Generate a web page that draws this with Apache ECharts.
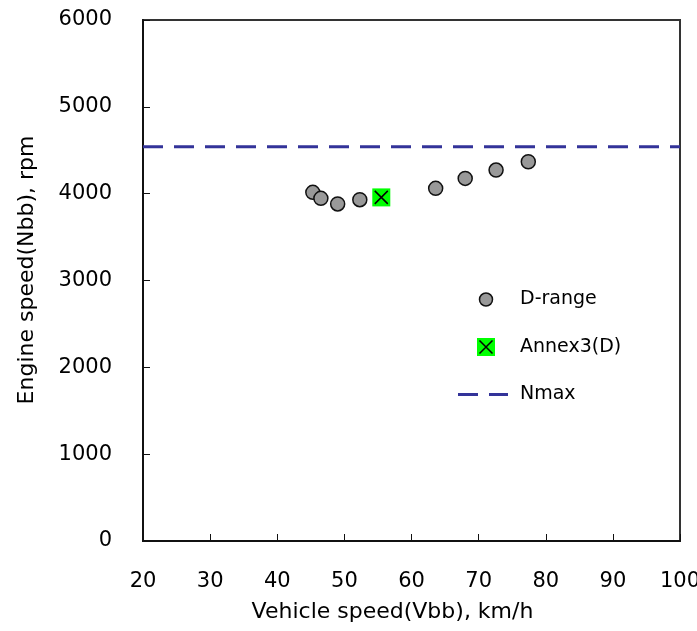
<!DOCTYPE html>
<html>
<head>
<meta charset="utf-8">
<script src="https://cdn.jsdelivr.net/npm/echarts@6/dist/echarts.min.js"></script>
<style>
  html, body { margin: 0; padding: 0; background: #fff; }
  #chart { width: 697px; height: 631px; }
</style>
</head>
<body>
<div id="chart"></div>
<script>
// D-range measurements: vehicle speed (km/h) and engine speed (rpm)
const dRangeSpeed = [45.3, 46.5, 49.0, 52.3, 63.6, 68.0, 72.6, 77.4];
const dRangeRpm   = [4015, 3946, 3882, 3931, 4061, 4176, 4272, 4368];

// Annex3(D) point
const annexSpeed = [55.5];
const annexRpm   = [3957];

// Maximum engine speed
const nmaxRpm = 4540;

// Axis ranges and ticks
const xMin = 20, xMax = 100, xStep = 10;
const yMin = 0, yMax = 6000, yStep = 1000;

const seriesNames = ['D-range', 'Annex3(D)', 'Nmax'];

const FONT = '"DejaVu Sans", "Noto Sans", sans-serif';

function svgIcon(body) {
  const svg = '<svg xmlns="http://www.w3.org/2000/svg" width="50" height="18" viewBox="0 0 50 18">' + body + '</svg>';
  return 'image://data:image/svg+xml;charset=utf-8,' + encodeURIComponent(svg);
}
const iconCircle = svgIcon('<circle cx="28" cy="9" r="6.5" fill="#999999" stroke="#111111" stroke-width="1.5"/>');
const iconAnnex  = svgIcon('<rect x="19" y="0" width="18" height="18" fill="#00ff00"/>' +
                           '<path d="M21.5 2.5L34.5 15.5M34.5 2.5L21.5 15.5" stroke="#000" stroke-width="1.5" fill="none"/>');
const iconDash   = svgIcon('<path d="M0 9H20M31 9H50" stroke="#333399" stroke-width="3" fill="none"/>');

const toPairs = (xs, ys) => xs.map((x, i) => [x, ys[i]]);

const chart = echarts.init(document.getElementById('chart'), null, { renderer: 'canvas' });

chart.setOption({
  animation: false,
  backgroundColor: '#ffffff',
  textStyle: { fontFamily: FONT, color: '#000' },
  grid: {
    left: 143, top: 20, right: 17, bottom: 90,
    outerBoundsMode: 'none',
    show: true, borderColor: '#333333', borderWidth: 2, backgroundColor: 'transparent'
  },
  legend: {
    data: [
      { name: seriesNames[0], icon: iconCircle },
      { name: seriesNames[1], icon: iconAnnex },
      { name: seriesNames[2], icon: iconDash }
    ],
    orient: 'vertical',
    left: 458, top: 290, padding: 0,
    itemWidth: 50, itemHeight: 18, itemGap: 28.5,
    selectedMode: false,
    textStyle: { fontFamily: FONT, fontSize: 19, color: '#000', padding: [0, 0, 0, 7] }
  },
  xAxis: {
    type: 'value', min: xMin, max: xMax, interval: xStep,
    name: 'Vehicle speed(Vbb), km/h', nameLocation: 'middle', nameGap: 60,
    nameTextStyle: { fontFamily: FONT, fontSize: 22, color: '#000', padding: [0, 38, 0, 0] },
    axisLine: { show: true, lineStyle: { color: '#111', width: 2 } },
    axisTick: { show: true, inside: true, length: 7, lineStyle: { color: '#111', width: 1 } },
    axisLabel: { fontFamily: FONT, fontSize: 21, color: '#000', margin: 30 },
    splitLine: { show: false }
  },
  yAxis: {
    type: 'value', min: yMin, max: yMax, interval: yStep,
    name: 'Engine speed(Nbb), rpm', nameLocation: 'middle', nameGap: 105,
    nameTextStyle: { fontFamily: FONT, fontSize: 22, color: '#000', padding: [0, 0, 0, 21] },
    axisLine: { show: true, lineStyle: { color: '#111', width: 2 } },
    axisTick: { show: true, inside: true, length: 7, lineStyle: { color: '#111', width: 1 } },
    axisLabel: { fontFamily: FONT, fontSize: 21, color: '#000', margin: 31, formatter: v => String(v) },
    splitLine: { show: false }
  },
  series: [
    {
      name: seriesNames[2],
      type: 'line',
      data: [[xMin, nmaxRpm], [xMax, nmaxRpm]],
      symbol: 'none',
      lineStyle: { color: '#333399', width: 3, type: [20, 11] },
      z: 1
    },
    {
      name: seriesNames[0],
      type: 'scatter',
      data: toPairs(dRangeSpeed, dRangeRpm),
      symbol: 'circle',
      symbolSize: 14,
      itemStyle: { color: '#999999', borderColor: '#111111', borderWidth: 1.5, opacity: 1 },
      z: 3
    },
    {
      name: seriesNames[1],
      type: 'scatter',
      data: toPairs(annexSpeed, annexRpm),
      symbol: 'rect',
      symbolSize: 18,
      itemStyle: { color: '#00ff00', opacity: 1 },
      z: 4
    },
    {
      name: 'Annex3(D) cross',
      type: 'scatter',
      data: toPairs(annexSpeed, annexRpm),
      symbol: 'path://M0,0L10,10M10,0L0,10',
      symbolSize: 13,
      itemStyle: { color: 'none', borderColor: '#000000', borderWidth: 1.5, opacity: 1 },
      z: 5
    }
  ]
});
</script>
</body>
</html>
